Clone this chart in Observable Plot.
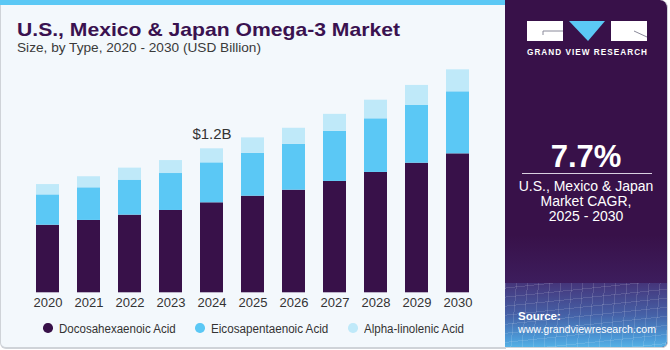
<!DOCTYPE html>
<html>
<head>
<meta charset="utf-8">
<script src="https://cdn.jsdelivr.net/npm/d3@7"></script>
<script src="https://cdn.jsdelivr.net/npm/@observablehq/plot@0.6"></script>
<style>
  html, body { margin: 0; padding: 0; background: #ffffff; }
  #frame { position: relative; width: 670px; height: 350px; overflow: hidden; font-family: "Liberation Sans", Arial, sans-serif; }
  #left { position: absolute; left: 0; top: 0; width: 506px; height: 349px; background: #f3f8fc; border-left: 1px solid #cfd3d8; border-bottom: 2px solid #cfd3d8; border-bottom-left-radius: 6px; box-sizing: border-box; }
  #topbar { position: absolute; left: 0; top: 0; width: 506px; height: 5px; background: #5bc8f5; }
  #right { position: absolute; left: 505px; top: 0; width: 163px; height: 348px; background: #381149; border-top-right-radius: 8px; border-bottom-right-radius: 6px; overflow: hidden; border-right: 1px solid #cfd3d8; border-bottom: 1px solid #cfd3d8; box-sizing: border-box;}
  #rightfade { position: absolute; left: 0; top: 235px; width: 100%; height: 48px; background: linear-gradient(180deg, #381149 0%, #3d1d5d 100%); }
  #rightgrad { position: absolute; left: 0; top: 283px; width: 100%; height: 70px;
    background:
      repeating-linear-gradient(95deg, rgba(255,255,255,0.13) 0 1px, transparent 1px 11px),
      repeating-linear-gradient(-6deg, rgba(255,255,255,0.12) 0 1px, transparent 1px 9px),
      linear-gradient(180deg, #45357a 0%, #4560a6 45%, #4c9bd8 80%, #5cc3ef 100%); }
  .txt { position: absolute; white-space: nowrap; line-height: 1; transform-origin: left center; }
  #title { left: 17px; top: 19.5px; font-family: "Liberation Sans", Arial, sans-serif; font-weight: bold; font-size: 19px; color: #3a1250; }
  #subtitle { left: 17px; top: 41.5px; font-family: "Liberation Sans", Arial, sans-serif; font-size: 12.8px; color: #3a3a3a; }
  #chart { position: absolute; left: 0; top: 0; }
  .legitem { position: absolute; top: 321px; height: 14px; display: flex; align-items: center; }
  .dot { width: 9.5px; height: 9.5px; border-radius: 50%; flex: none; }
  .legtext { position: absolute; top: 0.5px; font-size: 12.5px; line-height: 14px; color: #333; white-space: nowrap; transform-origin: left center; }
  #cagr { position: absolute; left: 0; width: 100%; top: 139px; text-align: center; color: #fff; font-family: "Liberation Sans", Arial, sans-serif; font-weight: bold; font-size: 31px; }
  #rule { position: absolute; left: 17px; width: 130px; top: 173px; height: 1px; background: #d8d0e0; }
  #cagrtext { position: absolute; left: 0; width: 100%; top: 179px; text-align: center; color: #fff; font-size: 14px; line-height: 15px; }
  #source { left: 13px; top: 311px; color: #fff; font-size: 11.5px; font-weight: bold; }
  #url { left: 13px; top: 323.5px; color: #fff; font-size: 11.5px; }
  #logo { position: absolute; left: 0; top: 0; }
</style>
</head>
<body>
<div id="frame">
  <div id="left"></div>
  <div id="topbar"></div>
  <div id="right">
    <div id="rightfade"></div>
    <div id="rightgrad"></div>
    <svg id="logo" width="163" height="70">
      <rect x="22" y="21" width="36" height="20" fill="#fff"/>
      <path d="M38,31 L58,31 M38,31 L38,35" stroke="#8a8a9a" stroke-width="1" fill="none"/>
      <path d="M64,21 L100,21 L83,41 Z" fill="#5bc8f5"/>
      <rect x="106" y="21" width="36" height="20" fill="#fff"/>
      <path d="M129,31 L142,37" stroke="#8a8a9a" stroke-width="1"/>
      <text x="22" y="54.5" fill="#fff" font-family="Liberation Sans, Arial, sans-serif" font-weight="bold" font-size="8.2" textLength="120" lengthAdjust="spacing">GRAND VIEW RESEARCH</text>
    </svg>
    <div id="cagr">7.7%</div>
    <div id="rule"></div>
    <div id="cagrtext">U.S., Mexico &amp; Japan<br>Market CAGR,<br>2025 - 2030</div>
    <div id="source" class="txt">Source:</div>
    <div id="url" class="txt">www.grandviewresearch.com</div>
  </div>
  <div id="chart"></div>
  <div id="title" class="txt">U.S., Mexico &amp; Japan Omega-3 Market</div>
  <div id="subtitle" class="txt">Size, by Type, 2020 - 2030 (USD Billion)</div>
  <div id="legend"></div>
</div>
<script>
const years = ["2020","2021","2022","2023","2024","2025","2026","2027","2028","2029","2030"];
const seriesNames = ["Docosahexaenoic Acid", "Eicosapentaenoic Acid", "Alpha-linolenic Acid"];
const seriesColors = ["#381149", "#5bc8f5", "#bfe9f9"];
const dha = [0.563, 0.603, 0.647, 0.686, 0.750, 0.805, 0.855, 0.928, 1.003, 1.080, 1.158];
const epa = [0.253, 0.272, 0.292, 0.308, 0.333, 0.358, 0.383, 0.417, 0.447, 0.481, 0.517];
const ala = [0.086, 0.092, 0.100, 0.108, 0.117, 0.128, 0.133, 0.142, 0.155, 0.167, 0.183];
const annotationYear = "2024";
const annotationText = "$1.2B";

const seriesValues = [dha, epa, ala];
const rows = [];
years.forEach((yr, i) => {
  seriesNames.forEach((s, j) => rows.push({year: yr, series: s, value: seriesValues[j][i]}));
});
const ai = years.indexOf(annotationYear);
const annot = [{year: annotationYear, total: dha[ai] + epa[ai] + ala[ai], label: annotationText}];

const chart = Plot.plot({
  width: 505,
  height: 350,
  marginLeft: 13,
  marginRight: 12,
  marginTop: 52.3,
  marginBottom: 57.7,
  style: {background: "transparent", fontFamily: "'Liberation Sans', Arial, sans-serif", fontSize: "13px", color: "#333"},
  x: {domain: years, padding: 0.43, label: null, tickSize: 0, tickPadding: 4.5},
  y: {domain: [0, 2], axis: null},
  color: {domain: seriesNames, range: seriesColors},
  marks: [
    Plot.barY(rows, Plot.stackY({order: seriesNames, x: "year", y: "value", fill: "series"})),
    Plot.text(annot, {x: "year", y: "total", text: "label", lineAnchor: "bottom", dy: -10, fontSize: 15, fill: "#333"})
  ]
});
document.getElementById("chart").appendChild(chart);

// layout helpers: squeeze text horizontally to the reference width
function fitWidth(el, target) {
  const w = el.getBoundingClientRect().width;
  if (w > 0) el.style.transform = `scaleX(${target / w})`;
}
fitWidth(document.getElementById("title"), 383);
fitWidth(document.getElementById("subtitle"), 244);
fitWidth(document.getElementById("url"), 138);

// legend layout
const legendStartX = 43.3, dotSize = 9.5, dotGap = 6.3, itemGap = 19.6;
const legendTextWidths = [116.7, 117.3, 100];
const legend = document.getElementById("legend");
let cx = legendStartX;
seriesNames.forEach((s, j) => {
  const it = document.createElement("div");
  it.className = "legitem";
  it.style.left = cx + "px";
  const d = document.createElement("span");
  d.className = "dot";
  d.style.background = seriesColors[j];
  it.appendChild(d);
  const t = document.createElement("span");
  t.className = "legtext";
  t.style.left = (dotSize + dotGap) + "px";
  t.textContent = s;
  it.appendChild(t);
  legend.appendChild(it);
  fitWidth(t, legendTextWidths[j]);
  cx += dotSize + dotGap + legendTextWidths[j] + itemGap;
});
</script>
</body>
</html>
